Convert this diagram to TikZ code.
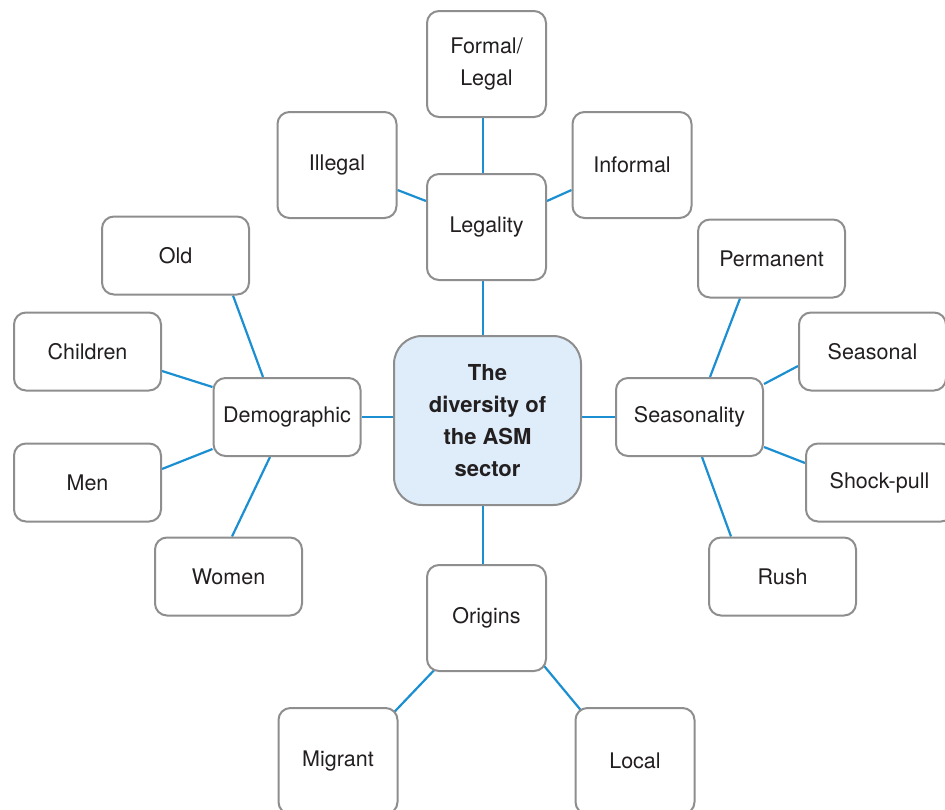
\documentclass[tikz,border=0pt]{standalone}
\usepackage{fontspec}
\setmainfont{TeX Gyre Heros}
\usetikzlibrary{calc,backgrounds}
\definecolor{boxgray}{HTML}{8E8E8E}
\definecolor{linkblue}{HTML}{1B8FD2}
\definecolor{centerfill}{HTML}{DEEDF9}
\definecolor{txt}{HTML}{231F20}
\begin{document}
\begin{tikzpicture}[x=1pt,y=-1pt,
 box/.style={draw=boxgray,line width=2pt,rounded corners=12pt,fill=white,text=txt,font=\fontsize{21.5}{32}\selectfont,align=center,inner sep=0pt},
 wide/.style={box,minimum width=147pt,minimum height=78pt},
 tall/.style={box,minimum width=119pt,minimum height=106pt},
 hub/.style={box,fill=centerfill,rounded corners=28pt,minimum width=187pt,minimum height=169pt,font=\fontsize{22}{32}\selectfont\bfseries},
 link/.style={draw=linkblue,line width=2.2pt}]
\useasboundingbox (0,0) rectangle (945,809);
\clip (0,0) rectangle (945,809);
\node[tall] (formal) at (486.5,64) {Formal/\\Legal};
\node[tall] (illegal) at (337,165) {Illegal};
\node[tall] (informal) at (632,165) {Informal};
\node[tall] (legality) at (486.5,227) {Legality};
\node[hub] (hub) at (487.5,420.5) {The\\diversity of\\the ASM\\sector};
\node[wide] (old) at (175.5,255.5) {Old};
\node[wide] (children) at (87.5,351.5) {Children};
\node[wide] (demo) at (287,417) {Demographic};
\node[wide] (men) at (87.5,482.5) {Men};
\node[wide] (women) at (228.5,576.5) {Women};
\node[wide] (permanent) at (771.5,258.5) {Permanent};
\node[wide] (seasonal) at (872.5,351.5) {Seasonal};
\node[wide] (seasonality) at (689.5,417) {Seasonality};
\node[wide] (shock) at (879.5,482.5) {Shock-pull};
\node[wide] (rush) at (782.5,576.5) {Rush};
\node[tall] (origins) at (486.5,618) {Origins};
\node[tall] (migrant) at (338,761) {Migrant};
\node[tall] (local) at (635,761) {Local};
\begin{scope}[on background layer]
\draw[link] ($(formal.south)+(-3.5,0)$) -- ($(legality.north)+(-3.5,0)$);
\draw[link] ($(illegal.east)+(0,25)$) -- ($(legality.west)+(0,-26)$);
\draw[link] ($(informal.west)+(0,25)$) -- ($(legality.east)+(0,-26)$);
\draw[link] ($(legality.south)+(-3.5,0)$) -- ($(hub.north)+(-4.5,0)$);
\draw[link] (hub.west |- demo.east) -- (demo.east);
\draw[link] (hub.east |- seasonality.west) -- (seasonality.west);
\draw[link] ($(hub.south)+(-4.5,0)$) -- ($(origins.north)+(-3.5,0)$);
\draw[link] ($(old.south)+(57.5,0)$) -- ($(demo.north)+(-24,0)$);
\draw[link] ($(children.east)+(0,19.5)$) -- ($(demo.west)+(0,-30)$);
\draw[link] ($(men.east)+(0,-13.5)$) -- ($(demo.west)+(0,32)$);
\draw[link] ($(women.north)+(3.5,0)$) -- ($(demo.south)+(-17,0)$);
\draw[link] ($(permanent.south)+(-31.5,0)$) -- ($(seasonality.north)+(20.5,0)$);
\draw[link] ($(seasonal.west)+(0,14.5)$) -- ($(seasonality.east)+(0,-33)$);
\draw[link] ($(shock.west)+(0,-19.5)$) -- ($(seasonality.east)+(0,30)$);
\draw[link] ($(rush.north)+(-51.5,0)$) -- ($(seasonality.south)+(12.5,0)$);
\draw[link] ($(origins.south west)+(14,-8)$) -- ($(migrant.north east)+(-9,10)$);
\draw[link] ($(origins.south east)+(-7,-11)$) -- ($(local.north west)+(12,10)$);
\end{scope}
\end{tikzpicture}
\end{document}
